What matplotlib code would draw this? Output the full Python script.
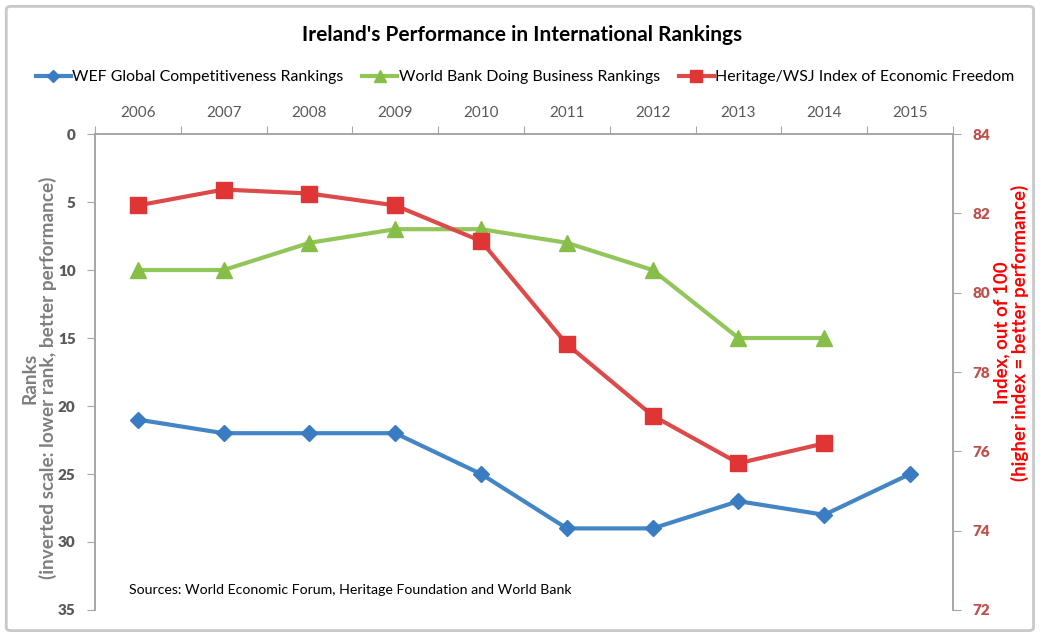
import matplotlib.pyplot as plt
from matplotlib.patches import FancyBboxPatch
import numpy as np

plt.rcParams['font.family'] = ['Lato', 'DejaVu Sans']

# ---------------------------------------------------------
# data
# ---------------------------------------------------------
years = ['2006', '2007', '2008', '2009', '2010', '2011', '2012', '2013', '2014', '2015']
wef_rank = [21, 22, 22, 22, 25, 29, 29, 27, 28, 25]
wb_rank = [10, 10, 8, 7, 7, 8, 10, 15, 15, np.nan]
heritage_index = [82.2, 82.6, 82.5, 82.2, 81.3, 78.7, 76.9, 75.7, 76.2, np.nan]
rank_ticks = [0, 5, 10, 15, 20, 25, 30, 35]
index_ticks = [72, 74, 76, 78, 80, 82, 84]

BLUE = '#4485C5'
GREEN = '#92C55A'
RED = '#DD4A4A'
GREY = '#595959'
AXIS = '#A6A6A6'

x = np.arange(len(years))

fig = plt.figure(figsize=(10.44, 6.37), dpi=100)
ax = fig.add_axes([0.091, 0.0424, 0.8218, 0.7472])
ax2 = ax.twinx()

l1, = ax.plot(x, wef_rank, color=BLUE, lw=3, marker='D', ms=8,
              markerfacecolor='#3A7CC2', markeredgecolor='#3A7CC2',
              label='WEF Global Competitiveness Rankings')
l2, = ax.plot(x, wb_rank, color=GREEN, lw=3, marker='^', ms=11,
              markerfacecolor='#86BE48', markeredgecolor='#86BE48',
              label='World Bank Doing Business Rankings')
l3, = ax2.plot(x, heritage_index, color=RED, lw=3, marker='s', ms=11,
               markerfacecolor='#E03535', markeredgecolor='#E03535',
               label='Heritage/WSJ Index of Economic Freedom')

# ---------------------------------------------------------
# axes
# ---------------------------------------------------------
ax.set_xlim(-0.5, len(years) - 0.5)
ax.set_ylim(35, 0)
ax2.set_ylim(72, 84)

ax.xaxis.tick_top()
ax.set_xticks(np.arange(-0.5, len(years), 1.0))
ax.set_xticklabels([])
ax.set_xticks(x, minor=True)
ax.set_xticklabels(years, minor=True)
ax.tick_params(axis='x', which='major', direction='out', length=6, color=AXIS)
ax.tick_params(axis='x', which='minor', length=0, pad=10, labelsize=11, labelcolor=GREY)

ax.tick_params(axis='y', direction='out', length=6, color=AXIS, pad=8)
ax2.tick_params(axis='y', direction='out', length=6, color=AXIS, pad=8)
ax.set_yticks(rank_ticks, labels=[str(v) for v in rank_ticks],
              fontsize=11, fontweight='heavy', color=GREY)
ax2.set_yticks(index_ticks, labels=[str(v) for v in index_ticks],
               fontsize=11, fontweight='heavy', color='#C0504D')

for a in (ax, ax2):
    a.spines['bottom'].set_visible(False)
    for s in ('top', 'left', 'right'):
        a.spines[s].set_color(AXIS)
        a.spines[s].set_linewidth(1.2)

ax.set_ylabel('Ranks\n(inverted scale: lower rank, better performance)',
              fontsize=13.7, fontweight='bold', color='#7F7F7F', linespacing=1.05)
ax.yaxis.set_label_coords(-0.044, 0.487)
ax2.set_ylabel('Index, out of 100\n(higher index = better performance)',
               fontsize=13.5, fontweight='bold', color='#FF0000', rotation=90,
               linespacing=1.05)
ax2.yaxis.set_label_coords(1.047, 0.582)

# ---------------------------------------------------------
# titles, legend, notes
# ---------------------------------------------------------
fig.text(0.5, 0.945, "Ireland's Performance in International Rankings",
         ha='center', va='center', fontsize=15, fontweight='bold', color='black')

fig.legend(handles=[l1, l2, l3], loc='center', bbox_to_anchor=(0.503, 0.879),
           ncol=3, frameon=False, fontsize=11.4, handlelength=2.2,
           handletextpad=0.1, columnspacing=1.2, markerscale=0.8)

ax.text(0.04, 0.03, 'Sources: World Economic Forum, Heritage Foundation and World Bank',
        transform=ax.transAxes, fontsize=10.2, color='black', va='bottom')

border = FancyBboxPatch((0.006, 0.01), 0.984, 0.98, boxstyle='round,pad=0,rounding_size=0.005',
                        transform=fig.transFigure, fill=False, edgecolor='#C8C8C8', lw=2)
fig.patches.append(border)

fig.savefig('out.png', dpi=100)
